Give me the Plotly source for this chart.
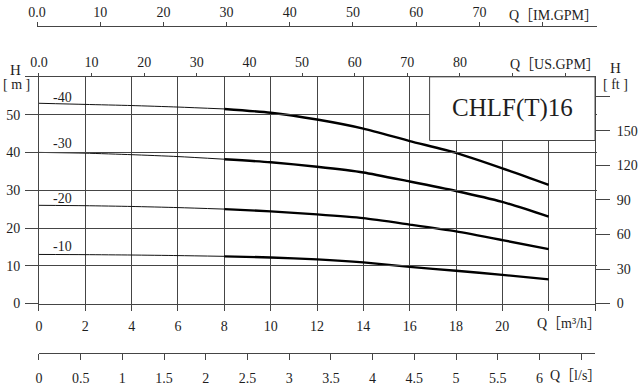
import plotly.graph_objects as go

# ---- data ----
q_m3h = [0, 2, 4, 6, 8, 10, 12, 14, 16, 18, 20, 22]
h_40 = [53.0, 52.7, 52.4, 52.0, 51.5, 50.5, 48.7, 46.3, 43.0, 39.9, 35.8, 31.4]
h_30 = [40.0, 39.8, 39.4, 38.9, 38.2, 37.4, 36.2, 34.7, 32.3, 29.8, 26.9, 23.0]
h_20 = [26.0, 25.9, 25.7, 25.4, 25.0, 24.4, 23.6, 22.6, 20.9, 19.1, 16.8, 14.4]
h_10 = [13.0, 12.95, 12.85, 12.7, 12.5, 12.2, 11.7, 10.9, 9.7, 8.7, 7.6, 6.4]
curve_names = ["-40", "-30", "-20", "-10"]
curve_label_h = [54.6, 42.3, 27.8, 15.1]

m3h_ticks = [0, 2, 4, 6, 8, 10, 12, 14, 16, 18, 20, 22, 24]
m3h_text = ["0", "2", "4", "6", "8", "10", "12", "14", "16", "18", "20", "", ""]
m_ticks = [0, 10, 20, 30, 40, 50, 60]
m_text = ["0", "10", "20", "30", "40", "50", ""]
ft_ticks = [0, 30, 60, 90, 120, 150, 180]
ft_text = ["0", "30", "60", "90", "120", "150", ""]
usgpm_ticks = [0, 10, 20, 30, 40, 50, 60, 70, 80, 90, 100]
usgpm_text = ["0.0", "10", "20", "30", "40", "50", "60", "70", "80", "", ""]
imgpm_ticks = [0, 10, 20, 30, 40, 50, 60, 70, 80]
imgpm_text = ["0.0", "10", "20", "30", "40", "50", "60", "70", ""]
ls_ticks = [0, 0.5, 1, 1.5, 2, 2.5, 3, 3.5, 4, 4.5, 5, 5.5, 6, 6.5]
ls_text = ["0", "0.5", "1", "1.5", "2", "2.5", "3", "3.5", "4", "4.5", "5", "5.5", "6", ""]
title_text = "CHLF(T)16"

# ---- geometry helpers (pixel -> paper) ----
W, H = 643, 391
ML, MR, MT, MB = 37, 35, 5, 31
PW, PH = W - ML - MR, H - MT - MB
def fx(px):
    return (px - ML) / PW
def fy(py):
    return (H - MB - py) / PH

PLOT_L, PLOT_R, PLOT_T, PLOT_B = 39, 606, 75, 309
XMAX = 24.0
YMAX = 60.0

FONT = "Liberation Serif, Times New Roman, Noto Sans CJK SC, serif"
GRID = "#454545"
TXT = "#1e1e1e"

fig = go.Figure()
for name, hs in zip(curve_names, [h_40, h_30, h_20, h_10]):
    fig.add_trace(go.Scatter(x=q_m3h[:5], y=hs[:5], mode="lines",
                             line=dict(color="#111", width=1, shape="spline", smoothing=0.6),
                             showlegend=False, hoverinfo="skip"))
    fig.add_trace(go.Scatter(x=q_m3h[4:], y=hs[4:], mode="lines",
                             line=dict(color="#000", width=2.4, shape="spline", smoothing=0.6),
                             showlegend=False, hoverinfo="skip"))

# dummy traces for secondary axes
fig.add_trace(go.Scatter(x=[None], y=[None], xaxis="x2", yaxis="y2", showlegend=False, hoverinfo="skip"))
fig.add_trace(go.Scatter(x=[None], y=[None], xaxis="x3", yaxis="y", showlegend=False, hoverinfo="skip"))
fig.add_trace(go.Scatter(x=[None], y=[None], xaxis="x4", yaxis="y", showlegend=False, hoverinfo="skip"))

tickfont = dict(family=FONT, size=14, color=TXT)

fig.update_layout(
    width=W, height=H,
    margin=dict(l=ML, r=MR, t=MT, b=MB, pad=0),
    paper_bgcolor="white", plot_bgcolor="rgba(0,0,0,0)",
    font=dict(family=FONT, size=14, color=TXT),
    xaxis=dict(domain=[fx(PLOT_L), fx(PLOT_R)], range=[0, XMAX], tickmode="array",
               tickvals=m3h_ticks, ticktext=m3h_text, ticks="outside", ticklen=6,
               tickcolor=GRID, showgrid=True, gridcolor=GRID, gridwidth=1,
               showline=True, linecolor=GRID, linewidth=1, mirror=True,
               zeroline=False, tickfont=tickfont, ticklabelstandoff=4, anchor="y"),
    yaxis=dict(domain=[fy(PLOT_B), fy(PLOT_T)], range=[0, YMAX], tickmode="array",
               tickvals=m_ticks, ticktext=m_text, ticks="outside", ticklen=13,
               tickcolor=GRID, showgrid=True, gridcolor=GRID, gridwidth=1,
               showline=True, linecolor=GRID, linewidth=1, mirror=True,
               zeroline=False, tickfont=tickfont, ticklabelstandoff=2, anchor="x"),
    yaxis2=dict(overlaying="y", side="right", anchor="x", range=[0, YMAX / 0.3048],
                tickmode="array", tickvals=ft_ticks, ticktext=ft_text, ticks="outside",
                ticklen=14, tickcolor=GRID, showgrid=False, showline=False, zeroline=False,
                tickfont=tickfont, ticklabelstandoff=4),
    xaxis2=dict(overlaying="x", side="top", anchor="y", range=[0, XMAX * 4.4029],
                tickmode="array", tickvals=usgpm_ticks, ticktext=usgpm_text, ticks="outside",
                ticklen=3, tickcolor=GRID, showgrid=False, showline=False, zeroline=False,
                tickfont=tickfont),
    xaxis3=dict(domain=[0, 1], anchor="free", position=fy(23), side="top",
                range=[0, PW / (((PLOT_R - PLOT_L) / XMAX) / 3.6662)],
                tickmode="array", tickvals=imgpm_ticks, ticktext=imgpm_text, ticks="outside",
                ticklen=4, tickcolor=GRID, showgrid=False, showline=True, linecolor=GRID,
                linewidth=1, zeroline=False, tickfont=tickfont),
    xaxis4=dict(overlaying="x", anchor="free", position=0, side="bottom",
                range=[0, XMAX / 3.6], tickmode="array", tickvals=ls_ticks, ticktext=ls_text,
                ticks="outside", ticklen=6, tickcolor=GRID, showgrid=False, showline=True,
                linecolor=GRID, linewidth=1, zeroline=False, tickfont=tickfont,
                ticklabelstandoff=6),
)

# title box
fig.add_shape(type="rect", xref="x", yref="y", x0=16.86, x1=XMAX, y0=43.15, y1=YMAX,
              fillcolor="white", line=dict(color=GRID, width=1), layer="above")
fig.add_annotation(xref="x", yref="y", x=20.45, y=51.7, text=title_text, showarrow=False,
                   font=dict(family=FONT, size=25, color=TXT))

# curve labels
for name, hy in zip(curve_names, curve_label_h):
    fig.add_annotation(xref="x", yref="y", x=1.0, y=hy, text=name, showarrow=False,
                       font=dict(family=FONT, size=14, color=TXT))

# unit labels
def lab(px, py, text, anchor="left", size=14):
    fig.add_annotation(xref="paper", yref="paper", x=fx(px), y=fy(py), text=text,
                       showarrow=False, xanchor=anchor, yanchor="middle",
                       font=dict(family=FONT, size=size, color=TXT))

lab(516, 12, "Q［IM.GPM］")
lab(517, 62, "Q［US.GPM］")
lab(545, 330, "Q［m³/h］")
lab(558, 383, "Q［l/s］")
lab(15, 68, "H", "center", 15)
lab(16, 83, "[ m ]", "center")
lab(627, 66, "H", "center", 15)
lab(627, 83, "[ ft ]", "center")

fig.write_html("out.html", config={"displayModeBar": False},
               post_script="document.body.style.margin='0';document.body.style.padding='0';")
